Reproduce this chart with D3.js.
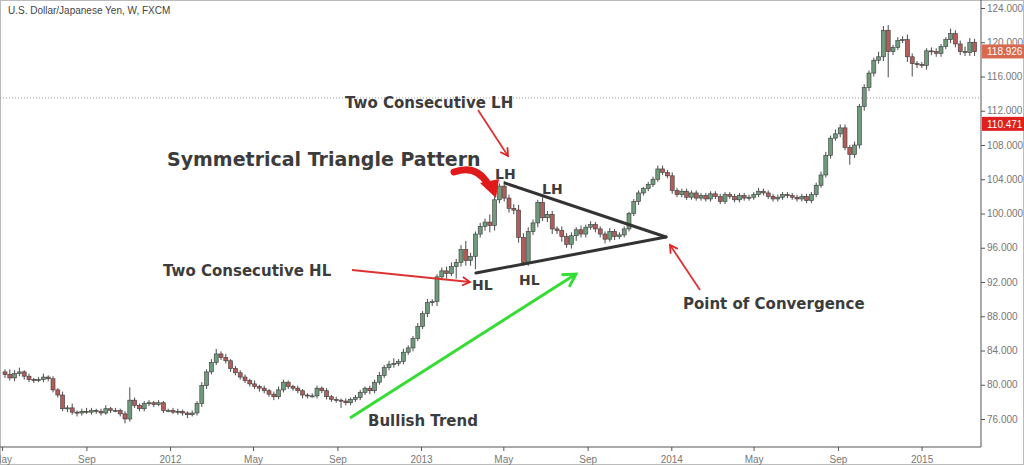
<!DOCTYPE html>
<html><head><meta charset="utf-8">
<script src="https://cdn.jsdelivr.net/npm/d3@7"></script>
<style>body{margin:0;background:#fff}svg{display:block;font-family:"Liberation Sans",Arial,sans-serif}</style>
</head><body><svg id="c" width="1024" height="465"></svg>
<script>
// weekly closes, USD/JPY
const closes = [
  81.2, 80.8, 81.3, 81.5, 81.0, 80.6, 80.5, 80.6, 80.9, 80.7,
  79.4, 78.8, 77.2, 77.3, 76.8, 76.7, 76.9, 76.8, 77.0, 76.9,
  76.7, 77.2, 77.0, 77.0, 76.6, 76.0, 78.2, 77.6, 77.2, 77.8,
  77.9, 77.7, 77.9, 77.0, 77.0, 76.8, 76.9, 76.7, 76.5, 76.7,
  77.8, 79.9, 81.5, 82.6, 83.6, 83.2, 82.8, 81.9, 81.4, 80.9,
  80.5, 80.1, 79.8, 79.6, 79.3, 78.9, 78.6, 79.4, 80.3, 79.8,
  79.6, 79.3, 78.8, 78.7, 78.7, 79.6, 79.3, 78.6, 78.3, 78.2,
  78.1, 77.9, 78.3, 78.5, 79.1, 79.6, 79.3, 80.3, 81.1, 82.0,
  82.4, 82.5, 82.7, 83.8, 84.3, 85.4, 86.8, 88.3, 89.6, 89.7,
  92.6, 93.3, 93.0, 93.8, 94.3, 95.8, 94.5, 95.0, 97.6, 98.5,
  99.0, 98.6, 101.6, 103.2, 101.8, 100.6, 100.4, 97.2, 94.3, 97.9,
  98.9, 101.3, 99.5, 99.9, 98.2, 98.0, 97.3, 96.4, 97.4, 98.1,
  97.6, 98.4, 98.7, 98.2, 97.6, 97.0, 97.9, 97.3, 97.5, 98.2,
  100.0, 101.4, 102.4, 102.9, 103.4, 104.0, 105.2, 104.8, 104.4, 102.7,
  102.2, 102.6, 101.9, 102.4, 101.8, 102.1, 101.7, 102.3, 102.0, 101.4,
  102.2, 102.0, 101.6, 102.1, 101.8, 101.9, 102.2, 102.6, 102.4, 102.0,
  101.7, 101.9, 102.2, 102.1, 101.9, 101.7, 102.0, 101.5, 102.2, 103.3,
  104.5, 106.8, 108.8, 109.3, 110.0, 107.7, 106.9, 108.0, 112.5, 114.7,
  116.4, 117.9, 118.3, 121.4, 118.9, 119.4, 120.2, 120.3, 118.3, 117.5,
  117.4, 117.3, 119.0, 118.9, 118.7, 119.5, 120.3, 121.0, 119.8, 118.9,
  118.8, 120.0, 118.9
];
const firstOpen = 81.5;
// wick lengths beyond the body (price units)
const upperWicks = [
  0.3, 0.6, 0.4, 0.5, 0.2, 0.3, 0.2, 0.3, 0.4, 0.2,
  0.3, 0.2, 0.4, 0.3, 0.5, 0.2, 0.3, 0.4, 0.3, 0.2,
  0.3, 0.4, 0.2, 0.3, 0.2, 0.3, 1.5, 0.3, 0.2, 0.3,
  0.3, 0.2, 0.3, 0.2, 0.2, 0.3, 0.3, 0.2, 0.2, 0.3,
  0.3, 0.4, 0.3, 0.4, 0.6, 0.3, 0.4, 0.2, 0.3, 0.3,
  0.3, 0.2, 0.4, 0.2, 0.3, 0.2, 0.3, 0.4, 0.3, 0.2,
  0.2, 0.3, 0.2, 0.2, 0.3, 0.3, 0.2, 0.3, 0.2, 0.3,
  0.2, 0.3, 0.2, 0.3, 0.3, 0.2, 0.3, 0.3, 0.4, 0.3,
  0.4, 0.6, 0.3, 0.4, 0.3, 0.3, 0.4, 0.3, 0.4, 0.3,
  0.3, 0.4, 0.5, 0.5, 0.4, 0.5, 1.0, 0.4, 0.3, 0.4,
  0.4, 0.9, 0.4, 0.3, 0.6, 0.4, 0.5, 0.6, 0.5, 0.5,
  0.4, 0.3, 0.6, 0.4, 0.4, 0.3, 0.5, 0.4, 0.4, 0.3,
  0.5, 0.3, 0.4, 0.3, 0.3, 0.3, 0.4, 0.3, 0.3, 0.3,
  0.2, 0.3, 0.3, 0.2, 0.3, 0.3, 0.4, 0.4, 0.3, 0.4,
  0.3, 0.3, 0.3, 0.3, 0.3, 0.3, 0.3, 0.3, 0.3, 0.3,
  0.3, 0.3, 0.3, 0.3, 0.3, 0.3, 0.3, 0.4, 0.3, 0.3,
  0.3, 0.3, 0.3, 0.3, 0.3, 0.3, 0.3, 0.3, 0.3, 0.3,
  0.4, 0.4, 0.3, 0.5, 0.4, 0.4, 0.3, 0.4, 0.3, 0.4,
  0.3, 0.3, 0.6, 0.5, 0.6, 0.3, 0.4, 0.4, 0.6, 0.4,
  0.3, 0.3, 0.3, 0.4, 0.4, 0.3, 0.3, 0.6, 0.4, 0.4,
  0.6, 0.5, 0.4
];
const lowerWicks = [
  0.4, 0.3, 0.4, 0.3, 0.4, 0.3, 0.3, 0.2, 0.3, 0.3,
  0.3, 0.3, 0.3, 0.4, 0.3, 0.4, 0.3, 0.2, 0.3, 0.3,
  0.3, 0.2, 0.3, 0.2, 0.3, 0.5, 0.3, 0.3, 0.3, 0.3,
  0.3, 0.3, 0.2, 0.3, 0.2, 0.2, 0.3, 0.3, 0.4, 0.2,
  0.3, 0.4, 0.4, 0.3, 0.3, 0.3, 0.3, 0.4, 0.3, 0.3,
  0.3, 0.3, 0.3, 0.4, 0.3, 0.3, 0.4, 0.3, 0.3, 0.3,
  0.3, 0.3, 0.4, 0.3, 0.2, 0.3, 0.3, 0.3, 0.3, 0.3,
  0.8, 0.3, 0.3, 0.3, 0.3, 0.3, 0.4, 0.3, 0.3, 0.3,
  0.3, 0.4, 0.3, 0.3, 0.3, 0.4, 0.3, 0.3, 0.4, 0.4,
  0.5, 0.4, 0.6, 0.3, 1.4, 0.5, 0.6, 0.6, 1.5, 0.4,
  0.5, 0.8, 0.6, 0.4, 0.4, 0.5, 0.5, 0.6, 0.4, 0.4,
  0.4, 0.5, 0.4, 0.5, 0.6, 0.4, 0.6, 0.4, 0.5, 0.6,
  0.4, 0.4, 0.3, 0.4, 0.4, 0.5, 0.3, 0.4, 0.3, 0.3,
  0.3, 0.3, 0.4, 0.3, 0.3, 0.3, 0.3, 0.3, 0.3, 0.4,
  0.3, 0.3, 0.3, 0.3, 0.3, 0.3, 0.3, 0.3, 0.3, 0.3,
  0.3, 0.3, 0.3, 0.3, 0.3, 0.3, 0.3, 0.3, 0.3, 0.3,
  0.3, 0.3, 0.3, 0.3, 0.3, 0.3, 0.3, 0.3, 0.3, 0.3,
  0.3, 0.3, 0.4, 0.3, 0.4, 0.3, 1.2, 0.4, 0.4, 0.5,
  0.4, 0.4, 0.4, 0.5, 3.0, 0.4, 0.3, 0.3, 0.6, 1.5,
  0.4, 0.3, 0.5, 0.4, 0.4, 0.4, 0.3, 0.4, 0.4, 0.4,
  0.4, 0.4, 0.5
];
const priceTicks = [76, 80, 84, 88, 92, 96, 100, 104, 108, 112, 116, 120, 124];
const lastPrice = 118.926;
const markerPrice = 110.471;
const dottedPrice = 113.5;
// triangle vertices as [week index, price]
const upperTrend = [[104.2, 103.55], [137.7, 97.25]];
const lowerTrend = [[98.1, 93.05], [137.7, 97.25]];

const firstWeek = new Date(2011, 3, 28);
const dayMs = 864e5;
const weekDate = i => new Date(firstWeek.getTime() + (7.3 + 7 * i) * dayMs);

const candles = closes.map((c, i) => {
  const o = i === 0 ? firstOpen : closes[i - 1];
  return {
    date: weekDate(i), open: o, close: c,
    high: Math.max(o, c) + upperWicks[i],
    low: Math.min(o, c) - lowerWicks[i]
  };
});

const W = 1024, H = 465;
const plotRight = 981, plotBottom = 447;
const svg = d3.select('#c');

const x = d3.scaleTime()
  .domain([firstWeek, new Date(firstWeek.getTime() + 981 / 4.8 * 7 * dayMs)])
  .range([0, plotRight]);
const y = d3.scaleLinear().domain([76, 124]).range([419, 8]);

// frame
svg.append('rect').attr('x', 0.5).attr('y', 0.5).attr('width', W - 1).attr('height', H - 1)
  .attr('fill', 'none').attr('stroke', '#bbb');

// axes
const yAxis = d3.axisRight(y).tickValues(priceTicks).tickFormat(d3.format('.3f')).tickSize(4);
svg.append('g').attr('transform', `translate(${plotRight},0)`).call(yAxis)
  .call(g => g.select('.domain').attr('stroke', '#555').attr('d', `M0,0V${plotBottom}`))
  .call(g => g.selectAll('line').attr('stroke', '#555'))
  .call(g => g.selectAll('text').attr('fill', '#777').attr('font-size', 10).attr('x', 6));

const xAxis = d3.axisBottom(x).ticks(d3.timeMonth.every(4)).tickSize(4)
  .tickFormat(d => d.getMonth() === 0 ? d3.timeFormat('%Y')(d) : d3.timeFormat('%b')(d));
svg.append('g').attr('transform', `translate(0,${plotBottom})`).call(xAxis)
  .call(g => g.select('.domain').attr('stroke', '#555').attr('d', `M0,0H${plotRight}`))
  .call(g => g.selectAll('line').attr('stroke', '#555'))
  .call(g => g.selectAll('text').attr('fill', '#777').attr('font-size', 10).attr('dy', '0.9em'));

// dotted level
svg.append('line').attr('x1', 0).attr('x2', plotRight)
  .attr('y1', y(dottedPrice)).attr('y2', y(dottedPrice))
  .attr('stroke', '#999').attr('stroke-dasharray', '1,2');

// candles
const cw = 4;
const cg = svg.append('g');
cg.selectAll('line').data(candles).join('line')
  .attr('x1', d => x(d.date)).attr('x2', d => x(d.date))
  .attr('y1', d => y(d.high)).attr('y2', d => y(d.low))
  .attr('stroke', '#4a4a4a').attr('stroke-width', 1);
cg.selectAll('rect').data(candles).join('rect')
  .attr('x', d => x(d.date) - cw / 2).attr('width', cw)
  .attr('y', d => y(Math.max(d.open, d.close)))
  .attr('height', d => Math.max(1, Math.abs(y(d.open) - y(d.close))))
  .attr('fill', d => d.close >= d.open ? '#6f9a7c' : '#b25d5a')
  .attr('stroke', '#3a3a3a').attr('stroke-width', 0.6);

// price labels
[[lastPrice, '#d8694f'], [markerPrice, '#e0201e']].forEach(([p, col]) => {
  svg.append('rect').attr('x', plotRight + 1).attr('y', y(p) - 7).attr('width', 42).attr('height', 14).attr('fill', col);
  svg.append('text').attr('x', plotRight + 6).attr('y', y(p) + 4).attr('fill', '#fff')
    .attr('font-size', 10).text(p.toFixed(3));
});

// title
svg.append('text').attr('x', 8).attr('y', 14).attr('font-size', 10).attr('fill', '#444')
  .text('U.S. Dollar/Japanese Yen, W, FXCM');

// triangle
const tline = d3.line().x(d => x(weekDate(d[0]))).y(d => y(d[1]));
[upperTrend, lowerTrend].forEach(t => svg.append('path').attr('d', tline(t))
  .attr('stroke', '#333').attr('stroke-width', 3).attr('fill', 'none').attr('stroke-linecap', 'round'));

// arrows
const defs = svg.append('defs');
function marker(id, col, size) {
  defs.append('marker').attr('id', id).attr('viewBox', '0 0 10 10').attr('refX', 8).attr('refY', 5)
    .attr('markerWidth', size).attr('markerHeight', size).attr('orient', 'auto')
    .append('path').attr('d', 'M1,1 L8,5 L1,9').attr('fill', 'none').attr('stroke', col).attr('stroke-width', 1.6);
}
marker('ar', '#dd2222', 6);
marker('ag', '#33dd33', 6);
const arrow = (x1, y1, x2, y2, col, id, w) => svg.append('line')
  .attr('x1', x1).attr('y1', y1).attr('x2', x2).attr('y2', y2)
  .attr('stroke', col).attr('stroke-width', w).attr('marker-end', `url(#${id})`);
arrow(478, 110, 508, 156, '#dd3333', 'ar', 1.8);
arrow(352, 270, 470, 282, '#dd3333', 'ar', 1.8);
arrow(700, 290, 670, 245, '#dd3333', 'ar', 1.8);
arrow(350, 418, 576, 274, '#33dd33', 'ag', 3);

// big curved red arrow
svg.append('path').attr('d', 'M454,172 Q476,164 488,184')
  .attr('fill', 'none').attr('stroke', '#e01a1a').attr('stroke-width', 7).attr('stroke-linecap', 'round');
svg.append('path').attr('d', 'M480,183 L499,179 L496,198 Z').attr('fill', '#e01a1a');

// annotation texts
const labels = [
  ['Two Consecutive LH', 345, 108, 15],
  ['Symmetrical Triangle Pattern', 167, 166, 19],
  ['LH', 495, 179, 14],
  ['LH', 542, 194, 14],
  ['Two Consecutive HL', 163, 276, 15],
  ['HL', 472, 290, 14],
  ['HL', 519, 285, 14],
  ['Point of Convergence', 683, 309, 15],
  ['Bullish Trend', 368, 426, 15]
];
svg.selectAll('text.ann').data(labels).join('text').attr('class', 'ann')
  .attr('x', d => d[1]).attr('y', d => d[2]).attr('font-size', d => d[3])
  .attr('font-weight', 'bold').attr('fill', '#3c3c3c').attr('font-family', '"DejaVu Sans",sans-serif')
  .text(d => d[0]);
</script></body></html>
